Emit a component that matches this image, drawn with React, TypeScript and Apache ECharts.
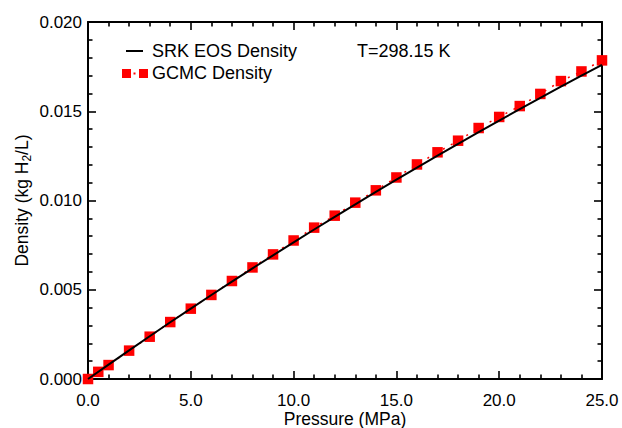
import React, { useEffect, useRef } from "react";
import * as echarts from "echarts";

// Pressure grid (MPa) for the SRK equation-of-state curve
const srkPressure = [0, 1, 2, 3, 4, 5, 6, 7, 8, 9, 10, 11, 12, 13, 14, 15, 16, 17, 18, 19, 20, 21, 22, 23, 24, 25];
// SRK EOS density (kg H2/L)
const srkDensity = [
  0, 0.000808, 0.001607, 0.002397, 0.003179, 0.003944, 0.004705, 0.005455, 0.006196, 0.006929,
  0.007658, 0.008375, 0.009085, 0.009788, 0.010483, 0.011165, 0.011843, 0.012513, 0.013177,
  0.013832, 0.014475, 0.015118, 0.015753, 0.016382, 0.016998, 0.017604,
];

// GCMC simulation pressures (MPa) and densities (kg H2/L)
const gcmcPressure = [0, 0.5, 1, 2, 3, 4, 5, 6, 7, 8, 9, 10, 11, 12, 13, 14, 15, 16, 17, 18, 19, 20, 21, 22, 23, 24, 25];
const gcmcDensity = [
  0, 0.0004, 0.00078, 0.00159, 0.00237, 0.00319, 0.00394, 0.00471, 0.00549, 0.00625, 0.00698,
  0.00776, 0.00848, 0.00915, 0.00988, 0.01057, 0.01129, 0.01202, 0.0127, 0.01335, 0.01406,
  0.01468, 0.01529, 0.01597, 0.01669, 0.01723, 0.01785,
];

const xTicks = { min: 0, max: 25, interval: 5 };
const yTicks = { min: 0, max: 0.02, interval: 0.005 };

const legendSrk = "SRK EOS Density";
const legendGcmc = "GCMC Density";
const tempLabel = "T=298.15 K";

const FONT = "'Liberation Sans', Arial, Helvetica, sans-serif";

export default function App() {
  const ref = useRef<HTMLDivElement>(null);

  useEffect(() => {
    if (!ref.current) return;
    const chart = echarts.init(ref.current, null, { renderer: "svg" });

    const tickStyle = {
      axisLine: { show: true, onZero: false, lineStyle: { color: "#000", width: 2 } },
      axisTick: { show: true, inside: true, length: 8, lineStyle: { color: "#000", width: 1.6 } },
      minorTick: { show: true, splitNumber: 5, length: 4.5, lineStyle: { color: "#000", width: 1.6 } },
      splitLine: { show: false },
    };

    const xBase = { type: "value", min: xTicks.min, max: xTicks.max, interval: xTicks.interval, ...tickStyle };
    const yBase = { type: "value", min: yTicks.min, max: yTicks.max, interval: yTicks.interval, ...tickStyle };

    chart.setOption({
      animation: false,
      backgroundColor: "#fff",
      textStyle: { fontFamily: FONT },
      grid: { left: 88, right: 20, top: 22, bottom: 49, containLabel: false, outerBoundsMode: "none" },
      xAxis: [
        {
          ...xBase,
          position: "bottom",
          axisLabel: {
            color: "#000",
            fontSize: 17,
            fontFamily: FONT,
            margin: 13,
            formatter: (v: number) => v.toFixed(1),
          },
          name: "Pressure (MPa)",
          nameLocation: "middle",
          nameMoveOverlap: false,
          nameGap: 31,
          nameTextStyle: { color: "#000", fontSize: 17.5, fontFamily: FONT },
        },
        { ...xBase, position: "top", axisLabel: { show: false } },
      ],
      yAxis: [
        {
          ...yBase,
          position: "left",
          axisLabel: {
            color: "#000",
            fontSize: 17,
            fontFamily: FONT,
            margin: 6,
            formatter: (v: number) => v.toFixed(3),
          },
          name: "{a|Density (kg H}{s|2}{a|/L)}",
          nameLocation: "middle",
          nameMoveOverlap: false,
          nameGap: 55,
          nameTextStyle: {
            color: "#000",
            fontFamily: FONT,
            rich: {
              a: { fontSize: 17.5, fontFamily: FONT, color: "#000" },
              s: { fontSize: 12, fontFamily: FONT, color: "#000", padding: [10, 0, 0, 0] },
            },
          },
        },
        { ...yBase, position: "right", axisLabel: { show: false } },
      ],
      series: [
        {
          name: legendGcmc,
          type: "line",
          data: gcmcPressure.map((p, i) => [p, gcmcDensity[i]]),
          symbol: "rect",
          symbolSize: 10.5,
          itemStyle: { color: "#ff0000" },
          lineStyle: { color: "#ff0000", width: 1.5, type: [2, 7] },
          z: 2,
        },
        {
          name: legendSrk,
          type: "line",
          data: srkPressure.map((p, i) => [p, srkDensity[i]]),
          symbol: "none",
          lineStyle: { color: "#000", width: 2 },
          z: 3,
        },
      ],
      graphic: [
        { type: "line", shape: { x1: 126, y1: 51, x2: 143, y2: 51 }, style: { stroke: "#000", lineWidth: 2 } },
        {
          type: "text",
          x: 152,
          y: 51,
          style: { text: legendSrk, fontSize: 18, fontFamily: FONT, fill: "#000", verticalAlign: "middle" },
        },
        { type: "rect", shape: { x: 122, y: 69, width: 9, height: 9 }, style: { fill: "#ff0000" } },
        { type: "rect", shape: { x: 133.5, y: 72.5, width: 2, height: 2 }, style: { fill: "#ff0000" } },
        { type: "rect", shape: { x: 139, y: 69, width: 9, height: 9 }, style: { fill: "#ff0000" } },
        {
          type: "text",
          x: 152,
          y: 73,
          style: { text: legendGcmc, fontSize: 18, fontFamily: FONT, fill: "#000", verticalAlign: "middle" },
        },
        {
          type: "text",
          x: 357,
          y: 51,
          style: { text: tempLabel, fontSize: 18, fontFamily: FONT, fill: "#000", verticalAlign: "middle" },
        },
      ],
    });

    return () => chart.dispose();
  }, []);

  return (
    <div
      ref={ref}
      style={{ position: "fixed", left: 0, top: 0, width: 622, height: 428, background: "#fff" }}
    />
  );
}
